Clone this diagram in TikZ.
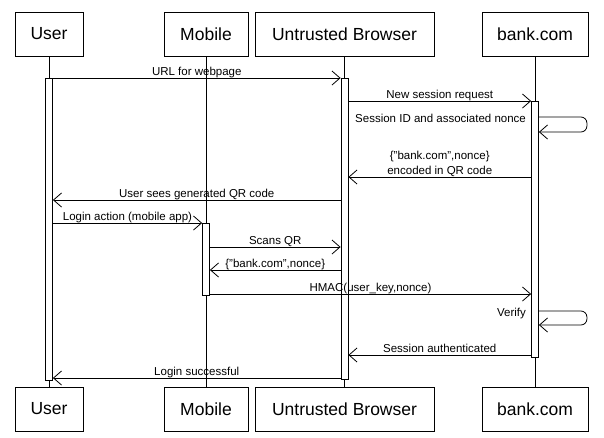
\documentclass[tikz,border=0pt]{standalone}
\usepackage{fontspec}
\setmainfont{Liberation Sans}
\usetikzlibrary{arrows.meta}

\tikzset{
  actor/.style={draw, line width=0.8pt, minimum height=44pt, inner sep=0pt,
    font=\fontsize{17.5}{20}\selectfont},
  bar/.style={draw, fill=white, line width=0.8pt, minimum width=7pt, inner sep=0pt},
  msg/.style={line width=0.8pt, -{Straight Barb[length=8pt,width=14pt]}},
  txt/.style={font=\fontsize{11.5}{15}\selectfont, inner sep=0pt, text depth=2pt},
}

\begin{document}
\begin{tikzpicture}[x=1pt,y=-1pt]
                \useasboundingbox (0,0) rectangle (604,437);

                % participants, top and bottom
                \node[actor, minimum width=68pt]  (user)    at (49,34)    {User};
                \node[actor, minimum width=84pt]  (mobile)  at (206,34)   {Mobile};
                \node[actor, minimum width=179pt] (browser) at (344.5,34) {Untrusted Browser};
                \node[actor, minimum width=106pt] (bank)    at (535,34)   {bank.com};
                \node[actor, minimum width=68pt]  (userB)    at (49,409)    {User};
                \node[actor, minimum width=84pt]  (mobileB)  at (206,409)   {Mobile};
                \node[actor, minimum width=179pt] (browserB) at (344.5,409) {Untrusted Browser};
                \node[actor, minimum width=106pt] (bankB)    at (535,409)   {bank.com};

                % lifelines
                \draw[line width=0.8pt] (user) -- (userB) (mobile) -- (mobileB)
                    (browser) -- (browserB) (bank) -- (bankB);

                % activation bars
                \node[bar, minimum height=302pt] (ubar) at (49,229)    {};
                \node[bar, minimum height=301pt] (bbar) at (344.5,228.5) {};
                \node[bar, minimum height=256pt] (kbar) at (535,229)   {};
                \node[bar, minimum height=72pt]  (mbar) at (206,259)   {};

                % rows
                \coordinate (r1) at (0,78);
                \coordinate (r2) at (0,101);
                \coordinate (l1) at (0,117);
                \coordinate (l1b) at (0,132);
                \coordinate (r3) at (0,177);
                \coordinate (r4) at (0,200);
                \coordinate (r5) at (0,223);
                \coordinate (r6) at (0,247);
                \coordinate (r7) at (0,270);
                \coordinate (r8) at (0,294);
                \coordinate (l2) at (0,311);
                \coordinate (l2b) at (0,325);
                \coordinate (r9) at (0,355);
                \coordinate (r10) at (0,378);

                \draw[msg] (ubar.east |- r1) -- node[txt, above] {URL for webpage} (bbar.west |- r1);
                \draw[msg] (bbar.east |- r2) -- node[txt, above] {New session request} (kbar.west |- r2);
                \draw[msg, rounded corners=6pt] (kbar.east |- l1) -- ++(48,0) -- ++(0,15) -- (kbar.east |- l1b);
                \node[txt, anchor=base east, xshift=-5pt, yshift=-5pt] (sid) at (kbar.west |- l1) {Session ID and associated nonce};
                \draw[msg] (kbar.west |- r3) -- node[txt, above, align=center] {\{"bank.com",nonce\}\\encoded in QR code} (bbar.east |- r3);
                \draw[msg] (bbar.west |- r4) -- node[txt, above] {User sees generated QR code} (ubar.east |- r4);
                \draw[msg] (ubar.east |- r5) -- node[txt, above] {Login action (mobile app)} (mbar.west |- r5);
                \draw[msg] (mbar.east |- r6) -- node[txt, above] {Scans QR} (bbar.west |- r6);
                \draw[msg] (bbar.west |- r7) -- node[txt, above] {\{"bank.com",nonce\}} (mbar.east |- r7);
                \draw[msg] (mbar.east |- r8) -- node[txt, above] {HMAC(user\_key,nonce)} (kbar.west |- r8);
                \draw[msg, rounded corners=6pt] (kbar.east |- l2) -- ++(48,0) -- ++(0,14) -- (kbar.east |- l2b);
                \node[txt, anchor=base east, xshift=-5pt, yshift=-5pt] (verify) at (kbar.west |- l2) {Verify};
                \draw[msg] (kbar.west |- r9) -- node[txt, above] {Session authenticated} (bbar.east |- r9);
                \draw[msg] (bbar.west |- r10) -- node[txt, above] {Login successful} (ubar.east |- r10);
            \end{tikzpicture}
\end{document}
